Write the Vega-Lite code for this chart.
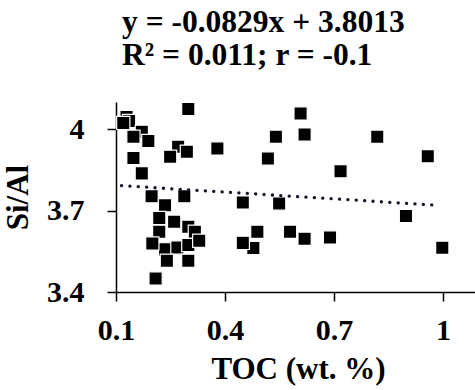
{
  "$schema": "https://vega.github.io/schema/vega-lite/v6.json",
  "autosize": "none",
  "width": 359,
  "height": 190,
  "padding": {"left": 116, "top": 102, "right": 0, "bottom": 98},
  "background": "white",
  "config": {"view": {"stroke": null}, "font": "Liberation Serif"},
  "title": {
    "text": ["y = -0.0829x + 3.8013", "R² = 0.011; r = -0.1"],
    "anchor": "start",
    "frame": "group",
    "dx": 6,
    "offset": 29,
    "font": "Liberation Serif",
    "fontSize": 31.5,
    "fontWeight": "bold",
    "lineHeight": 33,
    "color": "black"
  },
  "datasets": {
    "pts": [
      {"toc": 0.299, "sial": 4.074},
      {"toc": 0.129, "sial": 4.045},
      {"toc": 0.136, "sial": 4.03},
      {"toc": 0.171, "sial": 3.99},
      {"toc": 0.148, "sial": 3.972},
      {"toc": 0.189, "sial": 3.956},
      {"toc": 0.120, "sial": 4.023},
      {"toc": 0.148, "sial": 3.894},
      {"toc": 0.171, "sial": 3.837},
      {"toc": 0.271, "sial": 3.935},
      {"toc": 0.295, "sial": 3.917},
      {"toc": 0.249, "sial": 3.898},
      {"toc": 0.379, "sial": 3.929},
      {"toc": 0.235, "sial": 3.72},
      {"toc": 0.198, "sial": 3.753},
      {"toc": 0.288, "sial": 3.753},
      {"toc": 0.219, "sial": 3.673},
      {"toc": 0.260, "sial": 3.659},
      {"toc": 0.299, "sial": 3.640},
      {"toc": 0.219, "sial": 3.622},
      {"toc": 0.317, "sial": 3.622},
      {"toc": 0.235, "sial": 3.557},
      {"toc": 0.269, "sial": 3.564},
      {"toc": 0.299, "sial": 3.573},
      {"toc": 0.200, "sial": 3.579},
      {"toc": 0.329, "sial": 3.589},
      {"toc": 0.240, "sial": 3.515},
      {"toc": 0.299, "sial": 3.515},
      {"toc": 0.209, "sial": 3.450},
      {"toc": 0.608, "sial": 4.058},
      {"toc": 0.540, "sial": 3.972},
      {"toc": 0.619, "sial": 3.980},
      {"toc": 0.819, "sial": 3.972},
      {"toc": 0.518, "sial": 3.892},
      {"toc": 0.958, "sial": 3.900},
      {"toc": 0.718, "sial": 3.845},
      {"toc": 0.449, "sial": 3.730},
      {"toc": 0.549, "sial": 3.726},
      {"toc": 0.898, "sial": 3.680},
      {"toc": 0.489, "sial": 3.622},
      {"toc": 0.579, "sial": 3.622},
      {"toc": 0.478, "sial": 3.562},
      {"toc": 0.449, "sial": 3.581},
      {"toc": 0.619, "sial": 3.596},
      {"toc": 0.689, "sial": 3.601},
      {"toc": 0.998, "sial": 3.563}
    ],
    "trend": [
      {"toc": 0.115, "sial": 3.7918},
      {"toc": 0.985, "sial": 3.7196}
    ]
  },
  "encoding": {
    "x": {
      "field": "toc",
      "type": "quantitative",
      "scale": {"domain": [0.1, 1.088], "nice": false, "zero": false},
      "axis": {
        "title": "TOC (wt. %)",
        "values": [0.1, 0.4, 0.7, 1],
        "format": ".1~f",
        "grid": false,
        "domainColor": "black",
        "domainWidth": 1.5,
        "tickColor": "black",
        "tickWidth": 1.5,
        "tickSize": 9,
        "labelPadding": 14,
        "labelFont": "Liberation Serif",
        "labelFontSize": 30,
        "labelFontWeight": "bold",
        "labelColor": "black",
        "labelFlush": false,
        "labelOverlap": false,
        "titleFont": "Liberation Serif",
        "titleFontSize": 31,
        "titleFontWeight": "bold",
        "titleColor": "black",
        "titlePadding": 9,
        "titleX": 182
      }
    },
    "y": {
      "field": "sial",
      "type": "quantitative",
      "scale": {"domain": [3.4, 4.1], "nice": false, "zero": false},
      "axis": {
        "title": "Si/Al",
        "values": [3.4, 3.7, 4.0],
        "format": ".1~f",
        "grid": false,
        "domainColor": "black",
        "domainWidth": 1.5,
        "tickColor": "black",
        "tickWidth": 1.5,
        "tickSize": 9,
        "labelPadding": 23,
        "labelFont": "Liberation Serif",
        "labelFontSize": 30,
        "labelFontWeight": "bold",
        "labelColor": "black",
        "labelFlush": false,
        "labelOverlap": false,
        "titleFont": "Liberation Serif",
        "titleFontSize": 31,
        "titleFontWeight": "bold",
        "titleColor": "black",
        "titlePadding": 12
      }
    }
  },
  "layer": [
    {
      "data": {"name": "pts"},
      "mark": {"type": "point", "shape": "square", "filled": true, "size": 175, "color": "black", "stroke": "white", "strokeWidth": 1.2, "opacity": 1}
    },
    {
      "data": {"name": "trend"},
      "mark": {"type": "line", "color": "#0f1626", "strokeWidth": 3.3, "strokeDash": [0.1, 8.3], "strokeCap": "round"}
    }
  ]
}
